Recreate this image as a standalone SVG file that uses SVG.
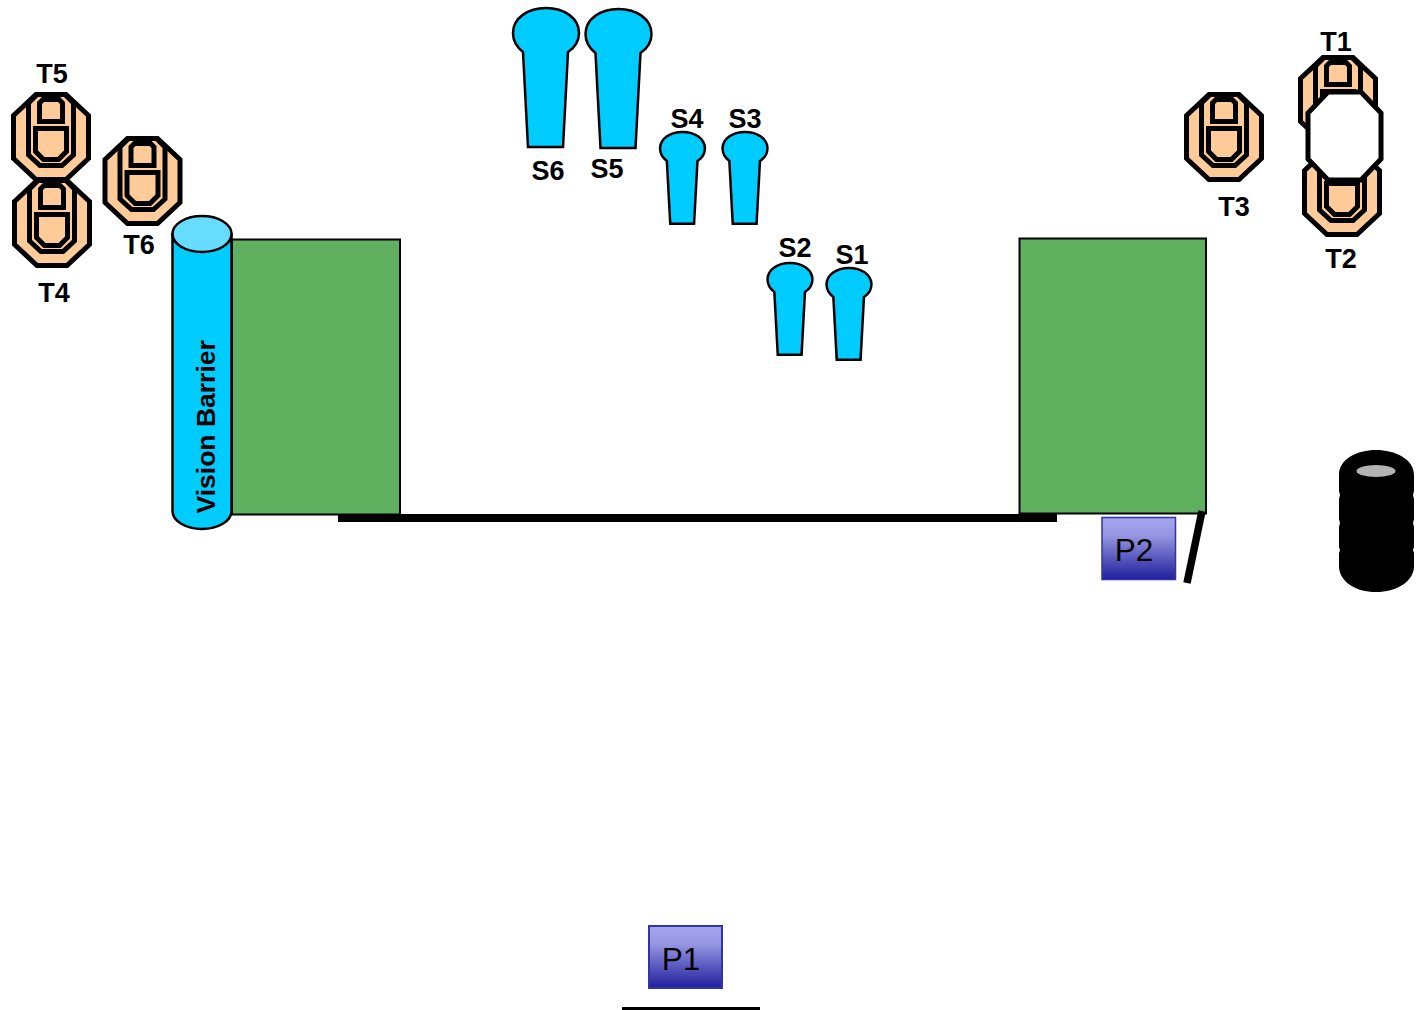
<svg xmlns="http://www.w3.org/2000/svg" width="1422" height="1010" viewBox="0 0 1422 1010">
<style>
text{font-family:"Liberation Sans",Arial,sans-serif;fill:#000}
.l{font-size:27px;font-weight:bold;text-anchor:middle}
.p{font-size:31.500px;text-anchor:middle}
.oct{fill:#ffcc99;stroke:#000;stroke-width:5;stroke-linejoin:miter}
.in{fill:#ffcc99;stroke:#000;stroke-width:5}
.box{fill:#ffcc99;stroke:#000;stroke-width:5}
.s{fill:#00ccff;stroke:#000;stroke-width:2.5;vector-effect:non-scaling-stroke}
.g{fill:#5fb15f;stroke:#000;stroke-width:2}
.cy{fill:#00ccff;stroke:#000;stroke-width:2.5}
</style>
<defs>
<linearGradient id="pg" x1="0" y1="0" x2="0" y2="1"><stop offset="0" stop-color="#a6a6f0"/><stop offset="0.3" stop-color="#9494e0"/><stop offset="1" stop-color="#1f1f9c"/></linearGradient>
<g id="target">
<polygon class="oct" points="-15,-42.500 15,-42.500 37.500,-21.500 37.500,21.500 15,42.500 -15,42.500 -37.500,21.500 -37.500,-21.500"/>
<polygon class="in" points="-14,-42.500 14,-42.500 22.500,-34 22.500,18 11,28.500 -11,28.500 -22.500,18 -22.500,-34"/>
<path class="box" d="M-8,-37.500H8L11.500,-34V-15.500H-11.500V-34Z"/>
<polygon class="box" points="-15.500,-8.500 15.500,-8.500 15.500,14.500 7.500,22.500 -7.500,22.500 -15.500,14.500"/>
</g>
<path id="skittle" class="s" d="M-23,44C-28,40 -33,35 -33,25C-33,10 -18,0 0,0C18,0 33,10 33,25C33,35 28,40 22,44L17,139H-18Z"/>
</defs>
<g id="wall-left"><rect class="g" x="232" y="239.500" width="168" height="275"/></g>
<g id="wall-right"><rect class="g" x="1019.500" y="238.500" width="186.500" height="275"/></g>
<g id="vision-barrier">
<path class="cy" d="M172.500,234V511C172.500,521 186,529 202,529S231.500,521 231.500,511V234Z"/>
<ellipse cx="202" cy="234" rx="29.500" ry="18" fill="#66ddff" stroke="#000" stroke-width="2.500"/>
<text transform="translate(215,513.500) rotate(-90)" font-size="26.500" font-weight="bold">Vision Barrier</text>
</g>
<g id="connectors">
<line x1="338" y1="518" x2="1057" y2="518" stroke="#000" stroke-width="8"/>
<line x1="1202" y1="511" x2="1187" y2="583" stroke="#000" stroke-width="7.500"/>
<line x1="622" y1="1008.500" x2="760" y2="1008.500" stroke="#000" stroke-width="3"/>
</g>
<g id="T5"><use href="#target" x="51" y="137"/><text class="l" x="52" y="83">T5</text></g>
<g id="T4"><use href="#target" x="52" y="223"/><text class="l" x="54" y="302">T4</text></g>
<g id="T6"><use href="#target" x="142.500" y="181"/><text class="l" x="139" y="254">T6</text></g>
<g id="T3"><use href="#target" x="1224" y="137"/><text class="l" x="1234" y="216">T3</text></g>
<g id="T1"><use href="#target" x="1338" y="100"/><text class="l" x="1336" y="51">T1</text></g>
<g id="T2"><use href="#target" x="1342" y="192"/><text class="l" x="1341" y="268">T2</text></g>
<g id="blank"><polygon fill="#fff" stroke="#000" stroke-width="5" points="1328,92 1361,92 1381,113 1381,159 1361,180 1328,180 1308,159 1308,113"/></g>
<g id="S6"><use href="#skittle" transform="translate(546,8)"/><text class="l" x="548" y="180">S6</text></g>
<g id="S5"><use href="#skittle" transform="translate(618.500,9)"/><text class="l" x="607" y="178">S5</text></g>
<g id="S4"><use href="#skittle" transform="translate(682.500,132) scale(.68,.66)"/><text class="l" x="687" y="128">S4</text></g>
<g id="S3"><use href="#skittle" transform="translate(745,132) scale(.68,.66)"/><text class="l" x="745" y="128">S3</text></g>
<g id="S2"><use href="#skittle" transform="translate(790,263) scale(.68,.66)"/><text class="l" x="795" y="257">S2</text></g>
<g id="S1"><use href="#skittle" transform="translate(849,268) scale(.68,.66)"/><text class="l" x="852" y="264">S1</text></g>
<g id="P2"><rect x="1102" y="517.500" width="73.500" height="62" fill="url(#pg)" stroke="#3333a8" stroke-width="1.500"/><text class="p" x="1134" y="561">P2</text></g>
<g id="P1"><rect x="649" y="926" width="73" height="62" fill="url(#pg)" stroke="#3333a8" stroke-width="2"/><text class="p" x="681" y="970">P1</text></g>
<g id="tyres">
<path fill="#000" d="M1339,475C1339,459 1357,450 1376,450S1414,459 1414,475V491L1413,495L1414,499V519L1413,523L1414,527V547L1413,550L1414,553V566C1414,582 1396,592 1376,592S1339,582 1339,566V553L1340,550L1339,547V527L1340,523L1339,519V499L1340,495L1339,491Z"/>
<ellipse cx="1376" cy="471" rx="19.500" ry="6" fill="#b3b3b3"/>
</g>
</svg>
